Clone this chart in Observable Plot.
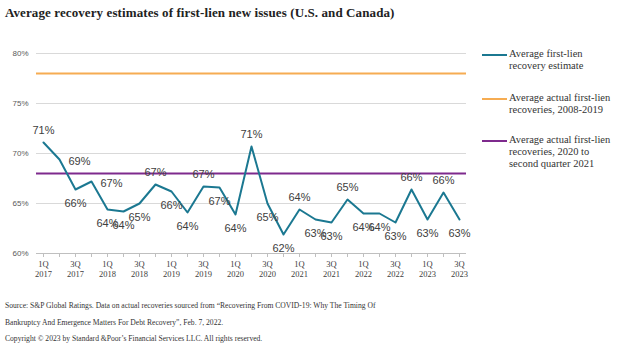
<!DOCTYPE html>
<html>
<head>
<meta charset="utf-8">
<script src="https://cdn.jsdelivr.net/npm/d3@7"></script>
<script src="https://cdn.jsdelivr.net/npm/@observablehq/plot@0.6"></script>
<style>
  html, body { margin: 0; padding: 0; background: #fff; }
  #wrap { position: relative; width: 620px; height: 357px; overflow: hidden; background: #fff; }
  #chart { position: absolute; left: 0; top: 0; }
  .title { position: absolute; left: 5px; top: 5px; font-family: "Liberation Serif", serif; font-weight: bold; font-size: 13px; letter-spacing: 0.1px; color: #222; white-space: nowrap; }
  .legend { position: absolute; left: 482px; font-family: "Liberation Serif", serif; font-size: 10.5px; color: #333; line-height: 12px; }
  .legend .sw { position: absolute; left: 0; width: 25px; height: 2px; top: 5px; }
  .legend .tx { position: absolute; left: 27px; white-space: nowrap; top: 0; }
  .foot { position: absolute; left: 5px; font-family: "Liberation Serif", serif; font-size: 7.6px; color: #333; white-space: nowrap; }
</style>
</head>
<body>
<div id="wrap">
  <div id="chart"></div>
</div>
<script>
const title = "Average recovery estimates of first-lien new issues (U.S. and Canada)";
const quarters = ["1Q 2017","2Q 2017","3Q 2017","4Q 2017","1Q 2018","2Q 2018","3Q 2018","4Q 2018",
  "1Q 2019","2Q 2019","3Q 2019","4Q 2019","1Q 2020","2Q 2020","3Q 2020","4Q 2020",
  "1Q 2021","2Q 2021","3Q 2021","4Q 2021","1Q 2022","2Q 2022","3Q 2022","4Q 2022",
  "1Q 2023","2Q 2023","3Q 2023"];
const estimate = [71.1,69.4,66.4,67.2,64.4,64.2,65.0,66.9,66.2,64.1,66.7,66.6,63.9,70.7,65.0,61.9,
  64.4,63.4,63.1,65.4,64.0,64.0,63.1,66.4,63.4,66.1,63.4];
const labelPlacement = ["above","right","below","right","below","below","below","above",
  "below","below","above","below","below","above","below","below",
  "above","below","below","above","below","below","below","above",
  "below","above","below"];
const actual2008to2019 = 78;
const actual2020to2021 = 68;
const yTicks = [60, 65, 70, 75, 80];
const seriesNames = ["Average first-lien\nrecovery estimate",
  "Average actual first-lien\nrecoveries, 2008-2019",
  "Average actual first-lien\nrecoveries, 2020 to\nsecond quarter 2021"];
const seriesColors = ["#1b7891", "#f6ac52", "#7e2a8d"];
const footnotes = [
  "Source: S&P Global Ratings. Data on actual recoveries sourced from \u201cRecovering From COVID-19: Why The Timing Of",
  "Bankruptcy And Emergence Matters For Debt Recovery\u201d, Feb. 7, 2022.",
  "Copyright \u00a9 2023 by Standard &Poor\u2019s Financial Services LLC. All rights reserved."
];

const data = quarters.map((q, i) => ({q, v: estimate[i], pos: labelPlacement[i]}));
const fmt = d => Math.round(d.v) + "%";
const labelStyle = {x: "q", y: "v", text: fmt, fontSize: 11, fontFamily: "Liberation Sans, Arial, sans-serif", fill: "#404040"};

const chart = Plot.plot({
  width: 620,
  height: 285,
  marginLeft: 36,
  marginRight: 154,
  marginTop: 53,
  marginBottom: 32,
  style: {background: "transparent", overflow: "visible"},
  x: {type: "point", domain: quarters, padding: 0},
  y: {domain: [60, 80]},
  marks: [
    Plot.gridY(yTicks.filter(t => t > 60), {stroke: "#d9d9d9", strokeOpacity: 1, strokeWidth: 1}),
    Plot.axisY(yTicks, {tickSize: 0, tickPadding: 8, tickFormat: d => d + "%", fontSize: 8,
      fontFamily: "Liberation Sans, Arial, sans-serif", fill: "#595959", label: null}),
    Plot.ruleY([60], {stroke: "#bfbfbf", strokeWidth: 1}),
    Plot.axisX({tickSize: 4, tickPadding: 2, stroke: "#bfbfbf", fontSize: 8.5,
      fontFamily: "Liberation Serif, serif", fill: "#404040", lineHeight: 1.2, label: null,
      tickFormat: (d, i) => (i % 2 === 0 ? d.replace(" ", "\n") : "")}),
    Plot.ruleY([actual2008to2019], {stroke: seriesColors[1], strokeWidth: 2}),
    Plot.ruleY([actual2020to2021], {stroke: seriesColors[2], strokeWidth: 2}),
    Plot.line(data, {x: "q", y: "v", stroke: seriesColors[0], strokeWidth: 2}),
    Plot.text(data.filter(d => d.pos === "above"), {...labelStyle, dy: -12}),
    Plot.text(data.filter(d => d.pos === "below"), {...labelStyle, dy: 14}),
    Plot.text(data.filter(d => d.pos === "right"), {...labelStyle, dy: 2, dx: 9, textAnchor: "start"})
  ]
});
document.getElementById("chart").appendChild(chart);

const wrap = document.getElementById("wrap");
const t = document.createElement("div");
t.className = "title";
t.textContent = title;
wrap.appendChild(t);

const legendTops = [48, 92, 134];
seriesNames.forEach((name, i) => {
  const item = document.createElement("div");
  item.className = "legend";
  item.style.top = legendTops[i] + "px";
  const sw = document.createElement("div");
  sw.className = "sw";
  sw.style.background = seriesColors[i];
  sw.style.top = "6px";
  const tx = document.createElement("div");
  tx.className = "tx";
  tx.innerHTML = name.split("\n").join("<br>");
  item.appendChild(sw);
  item.appendChild(tx);
  wrap.appendChild(item);
});

const footTops = [301, 318, 334];
footnotes.forEach((f, i) => {
  const d = document.createElement("div");
  d.className = "foot";
  d.style.top = footTops[i] + "px";
  d.textContent = f;
  wrap.appendChild(d);
});
</script>
</body>
</html>
